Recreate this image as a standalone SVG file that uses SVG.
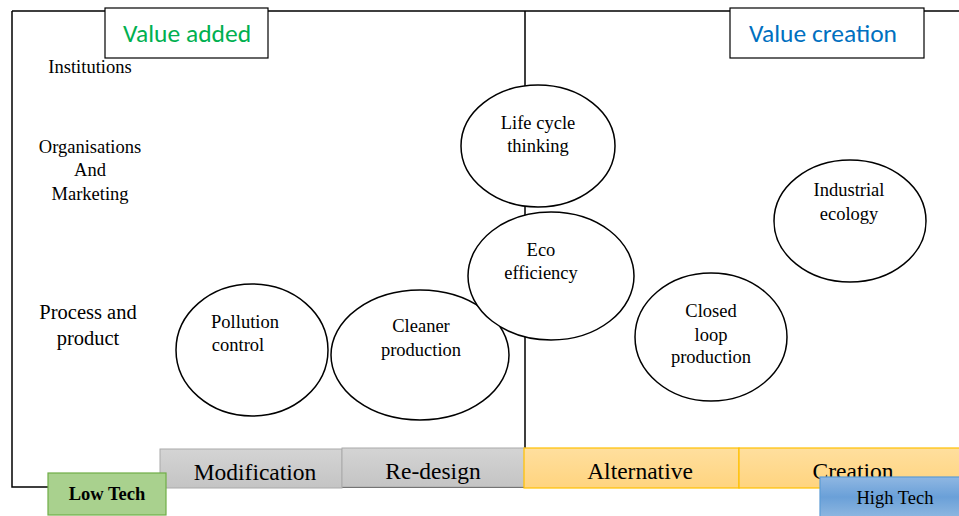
<svg xmlns="http://www.w3.org/2000/svg" width="959" height="516" viewBox="0 0 959 516">
<style>
.t{font-family:"Liberation Serif","Times New Roman",serif;fill:#000;text-anchor:middle}
.s16{font-size:18.5px}
.s19{font-size:20.5px}
.s22{font-size:23.5px}
.ell{fill:#fff;stroke:#000;stroke-width:1.5}
.ln{stroke:#000;stroke-width:1.5;fill:none}
.hdr{fill:#fff;stroke:#000;stroke-width:1.2}
.c{font-family:Carlito,Calibri,"Open Sans",sans-serif;font-size:25.5px;text-anchor:middle}
.gray{fill:url(#g);stroke:#aaa;stroke-width:1}
.org{fill:url(#o);stroke:#FFC000;stroke-width:1.2}
</style>
<defs>
<linearGradient id="g" x1="0" y1="0" x2="0" y2="1"><stop offset="0" stop-color="#d4d4d4"/><stop offset="1" stop-color="#c4c4c4"/></linearGradient>
<linearGradient id="o" x1="0" y1="0" x2="0" y2="1"><stop offset="0" stop-color="#ffdf9e"/><stop offset="1" stop-color="#ffd47f"/></linearGradient>
<linearGradient id="b" x1="0" y1="0" x2="0" y2="1"><stop offset="0" stop-color="#8fb7e2"/><stop offset="0.5" stop-color="#6aa0d8"/><stop offset="1" stop-color="#8db6e0"/></linearGradient>
</defs>
<g id="connectors">
<path class="ln" d="M12,11 H959 M12,11 V487 H550 M525,11 V449"/>
</g>
<g id="value-added"><rect class="hdr" x="105" y="8" width="163" height="50"/><text class="c" x="187" y="42" fill="#00B050">Value added</text></g>
<g id="value-creation"><rect class="hdr" x="730" y="8" width="194" height="50"/><text class="c" x="823" y="42" fill="#0070C0">Value creation</text></g>
<g id="institutions"><text class="t s16" x="90" y="73">Institutions</text></g>
<g id="organisations"><text class="t s16" x="90" y="153">Organisations</text><text class="t s16" x="90" y="176">And</text><text class="t s16" x="90" y="200">Marketing</text></g>
<g id="process"><text class="t s19" x="88" y="319">Process and</text><text class="t s19" x="88" y="345">product</text></g>
<g id="life-cycle"><ellipse class="ell" cx="538" cy="146" rx="77" ry="61"/><text class="t s16" x="538" y="129">Life cycle</text><text class="t s16" x="538" y="152">thinking</text></g>
<g id="cleaner"><ellipse class="ell" cx="420" cy="355" rx="89" ry="65"/><text class="t s16" x="421" y="332">Cleaner</text><text class="t s16" x="421" y="356">production</text></g>
<g id="eco"><ellipse class="ell" cx="551" cy="276" rx="83" ry="64"/><text class="t s16" x="541" y="256">Eco</text><text class="t s16" x="541" y="279">efficiency</text></g>
<g id="pollution"><ellipse class="ell" cx="252" cy="350" rx="76" ry="66"/><text class="t s16" x="245" y="328">Pollution</text><text class="t s16" x="238" y="351">control</text></g>
<g id="closed-loop"><ellipse class="ell" cx="711" cy="337" rx="76" ry="64"/><text class="t s16" x="711" y="317">Closed</text><text class="t s16" x="711" y="341">loop</text><text class="t s16" x="711" y="363">production</text></g>
<g id="industrial"><ellipse class="ell" cx="850" cy="221" rx="76" ry="61"/><text class="t s16" x="849" y="196">Industrial</text><text class="t s16" x="849" y="220">ecology</text></g>
<g id="modification"><rect class="gray" x="160" y="449" width="182" height="39"/><text class="t s22" x="255" y="480">Modification</text></g>
<g id="redesign"><rect class="gray" x="342" y="448" width="183" height="39"/><text class="t s22" x="433" y="479">Re-design</text></g>
<g id="alternative"><rect class="org" x="524" y="448" width="215" height="40"/><text class="t s22" x="640" y="479">Alternative</text></g>
<g id="creation"><rect class="org" x="739" y="448" width="221" height="40"/><text class="t s22" x="853" y="479">Creation</text></g>
<g id="low-tech"><rect x="48" y="473" width="118" height="42" fill="#a9d18e" stroke="#70ad47" stroke-width="1.2"/><text class="t s16" x="107" y="500" font-weight="bold">Low Tech</text></g>
<g id="high-tech"><rect x="820" y="477" width="140" height="40" fill="url(#b)" stroke="#5b9bd5" stroke-width="1.2"/><text class="t s16" x="895" y="504">High Tech</text></g>
</svg>
